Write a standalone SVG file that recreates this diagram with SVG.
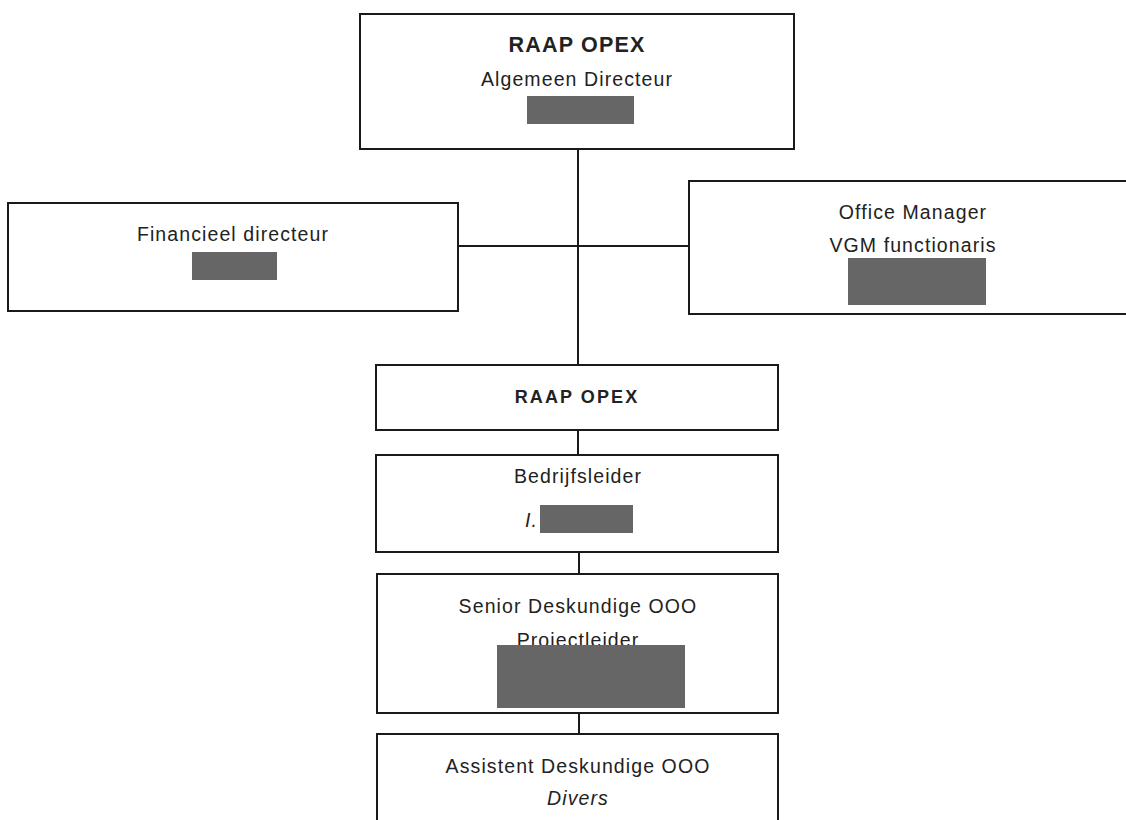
<svg xmlns="http://www.w3.org/2000/svg" width="1126" height="820" viewBox="0 0 1126 820">
<style>
.box{fill:#fff;stroke:#1a1a1a;stroke-width:2}
.con{stroke:#1a1a1a;stroke-width:2;fill:none}
.t{font-family:"Liberation Sans",Arial,sans-serif;font-size:19.5px;letter-spacing:1.1px;fill:#222;text-anchor:middle}
.b{font-weight:bold}
.i{font-style:italic}
.red{fill:#666}
</style>
<rect width="1126" height="820" fill="#fff"/>
<g id="connectors">
<line class="con" x1="578" y1="149" x2="578" y2="365"/>
<line class="con" x1="458" y1="246" x2="689" y2="246"/>
<line class="con" x1="578" y1="430" x2="578" y2="455"/>
<line class="con" x1="579" y1="552" x2="579" y2="574"/>
<line class="con" x1="579" y1="713" x2="579" y2="734"/>
</g>
<g id="raap-opex-top">
<rect class="box" x="360" y="14" width="434" height="135"/>
<text class="t b" x="577" y="52" style="font-size:21.5px;letter-spacing:1.2px">RAAP OPEX</text>
<text class="t" x="577" y="86">Algemeen Directeur</text>
<rect class="red" x="527" y="96" width="107" height="28"/>
</g>
<g id="financieel-directeur">
<rect class="box" x="8" y="203" width="450" height="108"/>
<text class="t" x="233" y="241">Financieel directeur</text>
<rect class="red" x="192" y="252" width="85" height="28"/>
</g>
<g id="office-manager">
<rect class="box" x="689" y="181" width="445" height="133"/>
<text class="t" x="913" y="219">Office Manager</text>
<text class="t" x="913" y="252">VGM functionaris</text>
<rect class="red" x="848" y="258" width="138" height="47"/>
</g>
<g id="raap-opex">
<rect class="box" x="376" y="365" width="402" height="65"/>
<text class="t b" x="577" y="403" style="font-size:18px;letter-spacing:2.1px">RAAP OPEX</text>
</g>
<g id="bedrijfsleider">
<rect class="box" x="376" y="455" width="402" height="97"/>
<text class="t" x="578" y="483">Bedrijfsleider</text>
<text class="t i" x="525" y="527" style="text-anchor:start">I.</text>
<rect class="red" x="540" y="505" width="93" height="28"/>
</g>
<g id="senior-deskundige">
<rect class="box" x="377" y="574" width="401" height="139"/>
<text class="t" x="578" y="613">Senior Deskundige OOO</text>
<text class="t" x="578" y="647">Projectleider</text>
<rect class="red" x="497" y="645" width="188" height="63"/>
</g>
<g id="assistent-deskundige">
<rect class="box" x="377" y="734" width="401" height="100"/>
<text class="t" x="578" y="773">Assistent Deskundige OOO</text>
<text class="t i" x="578" y="805">Divers</text>
</g>
</svg>
